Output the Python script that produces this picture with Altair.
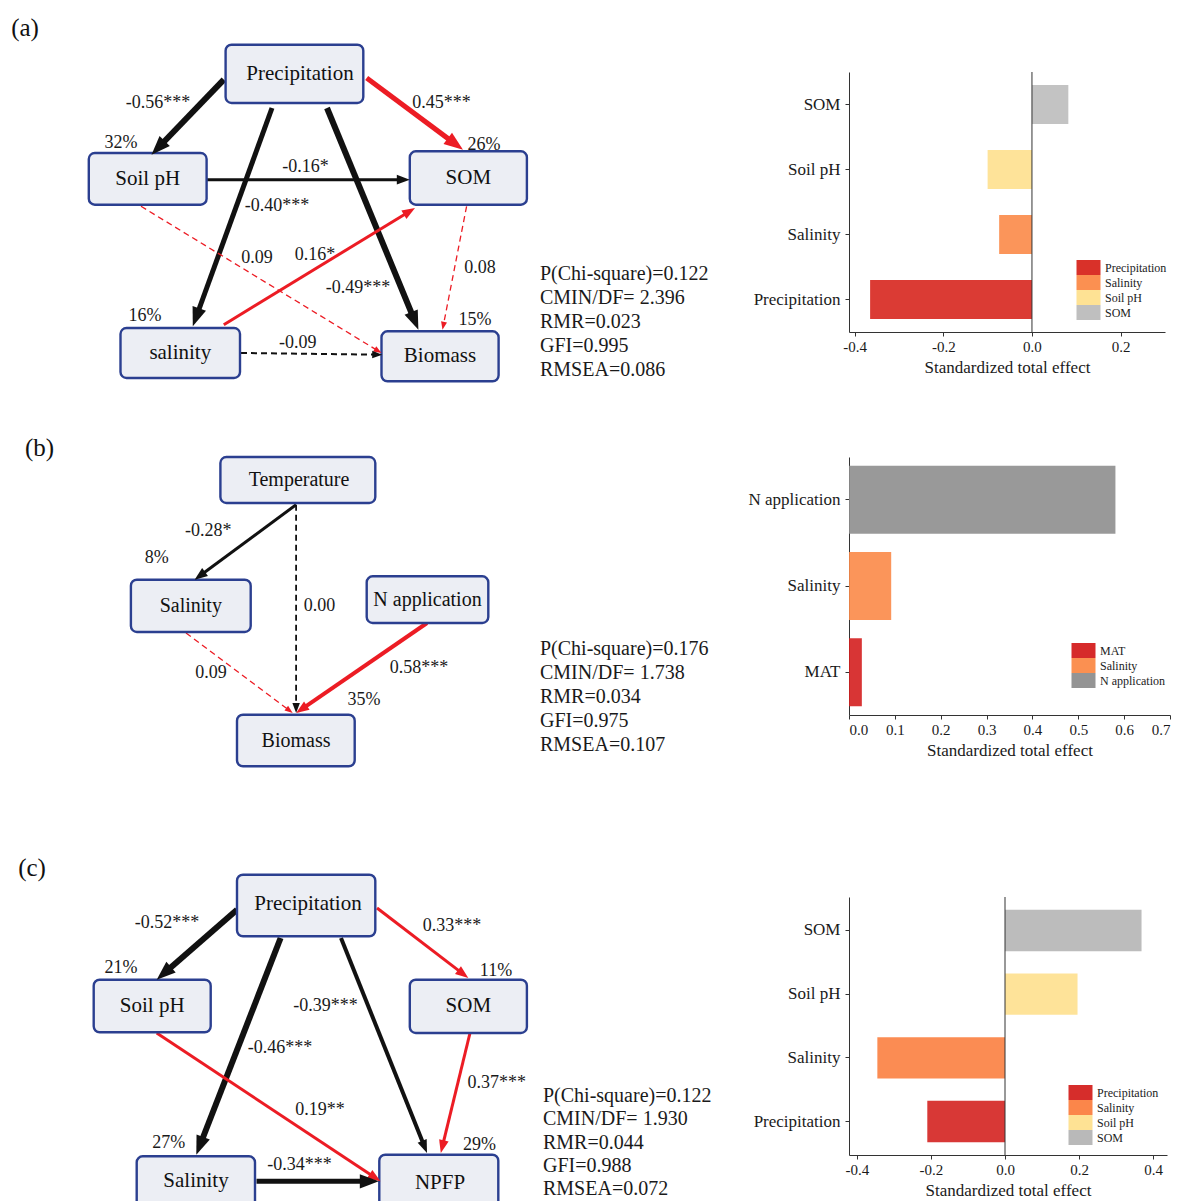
import math
import altair as alt
import pandas as pd

FONT = "Liberation Serif"
RED = "#ec1c24"
BLACK = "#111111"

# ---------------- bar-chart data ----------------
A_vars = ["SOM", "Soil pH", "Salinity", "Precipitation"]
A_effects = [0.082, -0.10, -0.074, -0.365]
A_legend = ["Precipitation", "Salinity", "Soil pH", "SOM"]
A_colors = ["#d7261e", "#fb8a48", "#fee08e", "#bcbcbc"]

B_vars = ["N application", "Salinity", "MAT"]
B_effects = [0.581, 0.092, 0.028]
B_legend = ["MAT", "Salinity", "N application"]
B_colors = ["#d41f1f", "#fb8a48", "#8e8e8e"]

C_vars = ["SOM", "Soil pH", "Salinity", "Precipitation"]
C_effects = [0.369, 0.196, -0.345, -0.21]
C_legend = ["Precipitation", "Salinity", "Soil pH", "SOM"]
C_colors = ["#d42220", "#fb8040", "#fee08e", "#b5b5b5"]

A_ticks = [-0.4, -0.2, 0.0, 0.2]
B_ticks = [0.0, 0.1, 0.2, 0.3, 0.4, 0.5, 0.6, 0.7]
C_ticks = [-0.4, -0.2, 0.0, 0.2, 0.4]

# ---------------- model fit statistics ----------------
A_fit = ["P(Chi-square)=0.122", "CMIN/DF= 2.396", "RMR=0.023", "GFI=0.995", "RMSEA=0.086"]
B_fit = ["P(Chi-square)=0.176", "CMIN/DF= 1.738", "RMR=0.034", "GFI=0.975", "RMSEA=0.107"]
C_fit = ["P(Chi-square)=0.122", "CMIN/DF= 1.930", "RMR=0.044", "GFI=0.988", "RMSEA=0.072"]

# ---------------- path diagrams: nodes, R2, coefficients ----------------
A_nodes = ["Precipitation", "Soil pH", "SOM", "salinity", "Biomass"]
A_r2 = ["32%", "26%", "16%", "15%"]
A_coef = ["-0.56***", "0.45***", "-0.40***", "-0.49***", "-0.16*", "0.09", "0.16*", "0.08", "-0.09"]
A_sign = ["neg", "pos", "neg", "neg", "neg", "pos", "pos", "pos", "neg"]
A_dashed = [False, False, False, False, False, True, False, True, True]

B_nodes = ["Temperature", "Salinity", "N application", "Biomass"]
B_r2 = ["8%", "35%"]
B_coef = ["-0.28*", "0.00", "0.09", "0.58***"]
B_sign = ["neg", "neg", "pos", "pos"]
B_dashed = [False, True, True, False]

C_nodes = ["Precipitation", "Soil pH", "SOM", "Salinity", "NPFP"]
C_r2 = ["21%", "11%", "27%", "29%"]
C_coef = ["-0.52***", "0.33***", "-0.46***", "-0.39***", "0.19**", "0.37***", "-0.34***"]
C_sign = ["neg", "pos", "neg", "neg", "pos", "pos", "neg"]
C_dashed = [False, False, False, False, False, False, False]

# ---------------- layout (positions / sizes) ----------------
A_box = [(225.6, 363.3, 41.7, 100), (88.8, 206.6, 150, 201.7), (409.8, 526.9, 148.3, 201.7),
         (120.5, 240, 325, 375), (381.5, 498.6, 328.3, 378.3)]
A_label_x = [300, 147.7, 468.3, 180.3, 440]
A_r2_pos = [(121, 140), (484, 141.7), (145, 313), (475, 316.7)]
A_edge_pos = [(223.8, 76.7, 151.5, 151.7), (366.7, 75, 463, 146.7), (272, 105, 192.8, 323.3),
              (327, 105, 418.4, 326.7), (206.6, 176.7, 409.8, 176.7), (141, 203.3, 381.5, 350),
              (223.8, 321.7, 415, 205), (466.6, 203.3, 442.5, 326.7), (241, 350, 382.2, 351.7)]
A_edge_w = [6, 5, 5, 6, 3, 1.3, 3, 1.3, 2]
A_coef_pos = [(158, 100), (441.6, 100), (277, 203.3), (358, 285), (305.6, 164), (257, 255),
              (315, 251.7), (480, 265), (297.7, 340)]

B_box = [(220.4, 375.3, 454, 500), (130.9, 250.7, 576.7, 629), (366.7, 488.3, 573.3, 620),
         (237, 354.7, 711.7, 763.3)]
B_label_x = [299, 190.8, 427.5, 296]
B_r2_pos = [(156.7, 555), (364, 696.7)]
B_edge_pos = [(296.1, 501.7, 194.6, 576.7), (296.1, 501.7, 296.1, 710), (186, 630, 292.7, 710),
              (427, 620, 296.1, 710)]
B_edge_w = [3, 1.8, 1.3, 4]
B_coef_pos = [(208.3, 528.3), (319.4, 603.3), (211, 670), (419, 665)]

C_box = [(237, 375.3, 871.7, 933.3), (93.7, 210.7, 976.7, 1029.3), (409.8, 526.9, 976.7, 1030),
         (136.7, 255, 1153.3, 1215), (379.3, 498.3, 1151.7, 1215)]
C_label_x = [308, 152.2, 468.3, 196, 440]
C_label_y = [901, 1003, 1003.3, 1178, 1180]
C_r2_pos = [(121, 965), (496, 968.3), (168.7, 1140), (479.5, 1141.7)]
C_edge_pos = [(237, 906.7, 156.7, 976.7), (377, 905, 468.3, 975), (280.6, 935, 196.3, 1151.7),
              (341, 935, 427, 1150), (156.7, 1030, 380.5, 1178.3), (470, 1030, 440.8, 1150),
              (256.5, 1178.3, 378.8, 1178.3)]
C_edge_w = [6, 3, 6, 4, 3, 3, 5]
C_coef_pos = [(167, 920), (452, 923.3), (280, 1045), (325.4, 1003.3), (320, 1106.7), (496.7, 1080),
              (299.6, 1161.7)]

X0, W = 8, 730
Y0, H = 8, 1193
BAR_LEFT = 849

HEAD_PATH = "M0,0L0.75,2L-0.75,2Z"
LEGEND_PATH = "M-1.6,-1H1.6V1H-1.6Z"

xs = alt.Scale(domain=[X0, X0 + W], nice=False, zero=False)
ys = alt.Scale(domain=[Y0, Y0 + H], reverse=True, nice=False, zero=False)


def X(f):
    return alt.X(f, type="quantitative", scale=xs, axis=None)


def Y(f):
    return alt.Y(f, type="quantitative", scale=ys, axis=None)


def head_len(w):
    if w >= 5:
        return 19
    if w >= 3:
        return 13
    if w >= 1.8:
        return 10
    return 8


def diagram_layers(tag, tag_pos, nodes, boxes, label_x, label_y, r2, r2_pos, coef, coef_pos, sign,
                   dashed, edge_pos, edge_w, fit, fit_pos, fit_step, node_font):
    lines, heads = [], []
    for (x1, y1, x2, y2), w, s, d in zip(edge_pos, edge_w, sign, dashed):
        dx, dy = x2 - x1, y2 - y1
        dist = math.hypot(dx, dy)
        L = head_len(w)
        bx, by = x2 - dx / dist * L * 0.8, y2 - dy / dist * L * 0.8
        col = RED if s == "pos" else BLACK
        ang = (math.degrees(math.atan2(dx, -dy)) + 360) % 360
        lines.append(dict(x=x1, y=y1, x2=bx, y2=by, c=col, w=w, d=int(d)))
        heads.append(dict(x=x2, y=y2, a=ang, s=L * L, c=col))
    ldf = pd.DataFrame(lines)
    hdf = pd.DataFrame(heads)

    layers = []
    if (ldf.d == 0).any():
        layers.append(alt.Chart(ldf[ldf.d == 0]).mark_rule().encode(
            x=X("x"), y=Y("y"), x2="x2:Q", y2="y2:Q",
            color=alt.Color("c:N", scale=None), strokeWidth=alt.StrokeWidth("w:Q", scale=None)))
    if (ldf.d == 1).any():
        layers.append(alt.Chart(ldf[ldf.d == 1]).mark_rule(strokeDash=[6, 4]).encode(
            x=X("x"), y=Y("y"), x2="x2:Q", y2="y2:Q",
            color=alt.Color("c:N", scale=None), strokeWidth=alt.StrokeWidth("w:Q", scale=None)))

    bdf = pd.DataFrame({
        "name": nodes,
        "x1": [b[0] for b in boxes], "x2": [b[1] for b in boxes],
        "y1": [b[2] for b in boxes], "y2": [b[3] for b in boxes],
        "cx": label_x,
        "cy": label_y if label_y else [(b[2] + b[3]) / 2 for b in boxes],
    })
    layers.append(alt.Chart(bdf).mark_rect(cornerRadius=6, fill="#eceef4", stroke="#2b3f90",
                                           strokeWidth=2.4).encode(
        x=X("x1"), x2="x2:Q", y=Y("y1"), y2="y2:Q"))
    layers.append(alt.Chart(hdf).mark_point(shape=HEAD_PATH, filled=True, opacity=1, strokeWidth=0).encode(
        x=X("x"), y=Y("y"), angle=alt.Angle("a:Q", scale=None), size=alt.Size("s:Q", scale=None),
        color=alt.Color("c:N", scale=None)))
    layers.append(alt.Chart(bdf).mark_text(font=FONT, fontSize=node_font, color="#111").encode(
        x=X("cx"), y=Y("cy"), text="name:N"))

    tdf = pd.DataFrame({
        "t": list(r2) + list(coef),
        "x": [p[0] for p in r2_pos] + [p[0] for p in coef_pos],
        "y": [p[1] for p in r2_pos] + [p[1] for p in coef_pos],
    })
    layers.append(alt.Chart(tdf).mark_text(font=FONT, fontSize=18, color="#1a1a1a").encode(
        x=X("x"), y=Y("y"), text="t:N"))

    fdf = pd.DataFrame({"t": fit, "x": [fit_pos[0]] * len(fit),
                        "y": [fit_pos[1] + fit_step * i for i in range(len(fit))]})
    layers.append(alt.Chart(fdf).mark_text(font=FONT, fontSize=20, align="left", color="#1a1a1a").encode(
        x=X("x"), y=Y("y"), text="t:N"))

    gdf = pd.DataFrame({"t": [tag], "x": [tag_pos[0]], "y": [tag_pos[1]]})
    layers.append(alt.Chart(gdf).mark_text(font=FONT, fontSize=25, color="#111").encode(
        x=X("x"), y=Y("y"), text="t:N"))
    return layers


def bars(vars_, effects, legend_order, colors, domain, ticks, pin, pout, width, height, lx, ly, zero_line):
    df = pd.DataFrame({"var": vars_, "effect": effects})
    b = alt.Chart(df).mark_bar(opacity=0.9).encode(
        y=alt.Y("var:N", sort=vars_, scale=alt.Scale(paddingInner=pin, paddingOuter=pout),
                axis=alt.Axis(title=None, labelFontSize=17, tickSize=4, labelPadding=5)),
        x=alt.X("effect:Q", scale=alt.Scale(domain=domain, nice=False),
                axis=alt.Axis(values=ticks, title="Standardized total effect", labelFontSize=15,
                              titleFontSize=17, tickSize=4, labelPadding=3, titlePadding=5,
                              labelExpr="datum.value < 0 ? '-' + format(-datum.value, '.1f') : format(datum.value, '.1f')")),
        color=alt.Color("var:N", scale=alt.Scale(domain=legend_order, range=colors),
                        legend=alt.Legend(title=None, orient="none", legendX=lx, legendY=ly,
                                          symbolType=LEGEND_PATH, symbolSize=225,
                                          symbolStrokeWidth=0, symbolOpacity=0.95,
                                          labelFontSize=12, labelFont=FONT, labelOffset=9,
                                          rowPadding=0, padding=0, labelColor="#222")),
    )
    layers = [b]
    if zero_line:
        z = alt.Chart(pd.DataFrame({"z": [0.0]})).mark_rule(color="#333", strokeWidth=1).encode(x="z:Q")
        layers.append(z)
    return alt.layer(*layers).properties(width=width, height=height)


def spacer(h):
    return alt.Chart(pd.DataFrame({"a": [0]})).mark_point(opacity=0).encode(
        x=alt.value(0), y=alt.value(0)).properties(width=10, height=h)


layers = []
layers += diagram_layers("(a)", (25, 25), A_nodes, A_box, A_label_x, None, A_r2, A_r2_pos, A_coef,
                         A_coef_pos, A_sign, A_dashed, A_edge_pos, A_edge_w, A_fit, (540, 270.5), 24, 21)
layers += diagram_layers("(b)", (39.5, 445), B_nodes, B_box, B_label_x, None, B_r2, B_r2_pos, B_coef,
                         B_coef_pos, B_sign, B_dashed, B_edge_pos, B_edge_w, B_fit, (540, 646), 24, 20)
layers += diagram_layers("(c)", (32, 865), C_nodes, C_box, C_label_x, C_label_y, C_r2, C_r2_pos, C_coef,
                         C_coef_pos, C_sign, C_dashed, C_edge_pos, C_edge_w, C_fit, (543, 1093), 23.3, 21)
diagram = alt.layer(*layers).properties(width=W, height=H)

bA = bars(A_vars, A_effects, A_legend, A_colors, [-0.4126, 0.30], A_ticks, 0.4, 0.2, 316, 260, 232, 188, True)
bB = bars(B_vars, B_effects, B_legend, B_colors, [0.0, 0.7], B_ticks, 0.21, 0.1, 321, 258, 227, 186, False)
bC = bars(C_vars, C_effects, C_legend, C_colors, [-0.4216, 0.4378], C_ticks, 0.35, 0.2, 318, 258, 224, 188, True)

right = alt.vconcat(spacer(60.3), bA, spacer(125), bB, spacer(182), bC, spacing=0, bounds="flush").resolve_scale(
    x="independent", y="independent", color="independent").resolve_legend(color="independent")

chart = alt.hconcat(diagram, right, spacing=BAR_LEFT - (X0 + W), bounds="flush").properties(
    padding={"left": 0, "top": 0, "right": 0, "bottom": 0}
).configure_view(stroke=None).configure_axis(
    labelFont=FONT, titleFont=FONT, grid=False, domainColor="#333", tickColor="#333",
    labelColor="#1a1a1a", titleColor="#1a1a1a", titleFontWeight="normal"
).configure_legend(labelFont=FONT)

chart.save("out.html", embed_options={"renderer": "svg", "actions": False})
